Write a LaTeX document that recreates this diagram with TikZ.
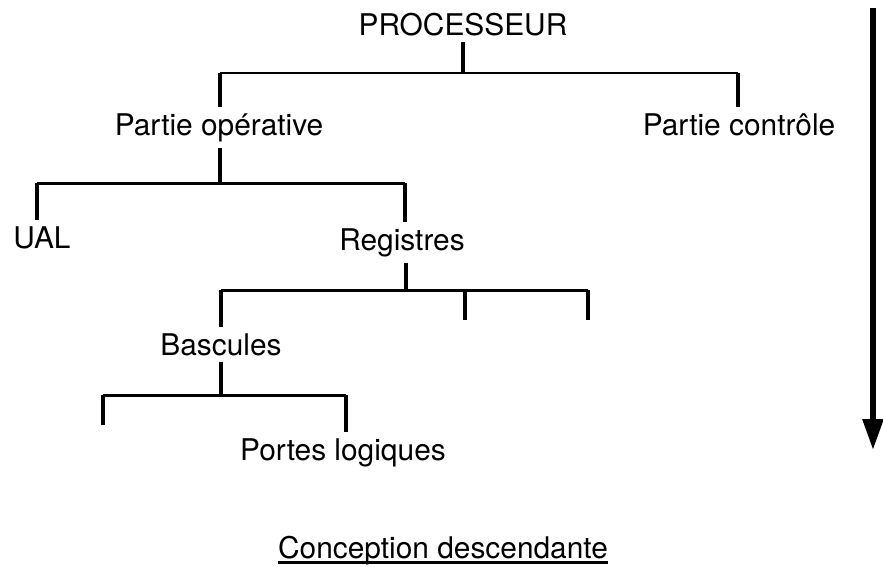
\documentclass[tikz,border=0pt]{standalone}
\usepackage{fontspec}
\setmainfont{TeX Gyre Heros}
\usetikzlibrary{arrows.meta}

\begin{document}
\begin{tikzpicture}[x=0.02cm, y=-0.02cm,
    label/.style={anchor=base, font=\fontsize{17}{20}\selectfont},
    bar/.style={line width=1.7pt},
    tick/.style={line width=2.5pt}]
    \useasboundingbox (0, 0) rectangle (883, 569);

    \node[label] (proc)   at (463, 35)  {PROCESSEUR};
    \node[label] (opera)  at (219, 135) {Partie opérative};
    \node[label] (ctrl)   at (739, 135) {Partie contrôle};
    \node[label] (ual)    at (42, 248)  {UAL};
    \node[label] (regs)   at (402, 250) {Registres};
    \node[label] (basc)   at (221, 355) {Bascules};
    \node[label] (portes) at (343, 460) {Portes logiques};
    \node[label, inner xsep=0pt] (title) at (443, 558) {Conception descendante};

    \coordinate (j1) at (463, 73);
    \coordinate (j1w) at (220, 73);
    \coordinate (j1e) at (738, 73);
    \coordinate (j2) at (220, 183);
    \coordinate (j2w) at (37, 183);
    \coordinate (j2e) at (405, 183);
    \coordinate (j3) at (406, 290);
    \coordinate (j3w) at (221, 290);
    \coordinate (j3m) at (465, 290);
    \coordinate (j3e) at (588, 290);
    \coordinate (t3m) at (465, 320);
    \coordinate (t3e) at (588, 320);
    \coordinate (j4) at (221, 395);
    \coordinate (j4w) at (103, 395);
    \coordinate (j4e) at (346, 395);
    \coordinate (t4w) at (103, 425);
    \coordinate (atop) at (873, 8);
    \coordinate (abot) at (873, 450);

    \draw[tick] (proc) -- (j1);
    \draw[bar] (j1w) -- (j1e);
    \draw[tick] (j1w) -- (j1w |- opera.north);
    \draw[tick] (j1e) -- (j1e |- ctrl.north);

    \draw[tick] (opera.south -| j2) -- (j2);
    \draw[bar] (j2w) -- (j2e);
    \draw[tick] (j2w) -- (j2w |- ual.north);
    \draw[tick] (j2e) -- (j2e |- regs.north);

    \draw[tick] (regs.south -| j3) -- (j3);
    \draw[bar] (j3w) -- (j3e);
    \draw[tick] (j3w) -- (j3w |- basc.north);
    \draw[tick] (j3m) -- (t3m);
    \draw[tick] (j3e) -- (t3e);

    \draw[tick] (basc.south -| j4) -- (j4);
    \draw[bar] (j4w) -- (j4e);
    \draw[tick] (j4w) -- (t4w);
    \draw[tick] (j4e) -- (j4e |- portes.north);

    \draw[line width=1.3pt] ([yshift=-2.5pt]title.base west) -- ([yshift=-2.5pt]title.base east);

    \draw[line width=3.2pt, -{Triangle[width=0.4cm, length=0.62cm]}] (atop) -- (abot);
\end{tikzpicture}
\end{document}
